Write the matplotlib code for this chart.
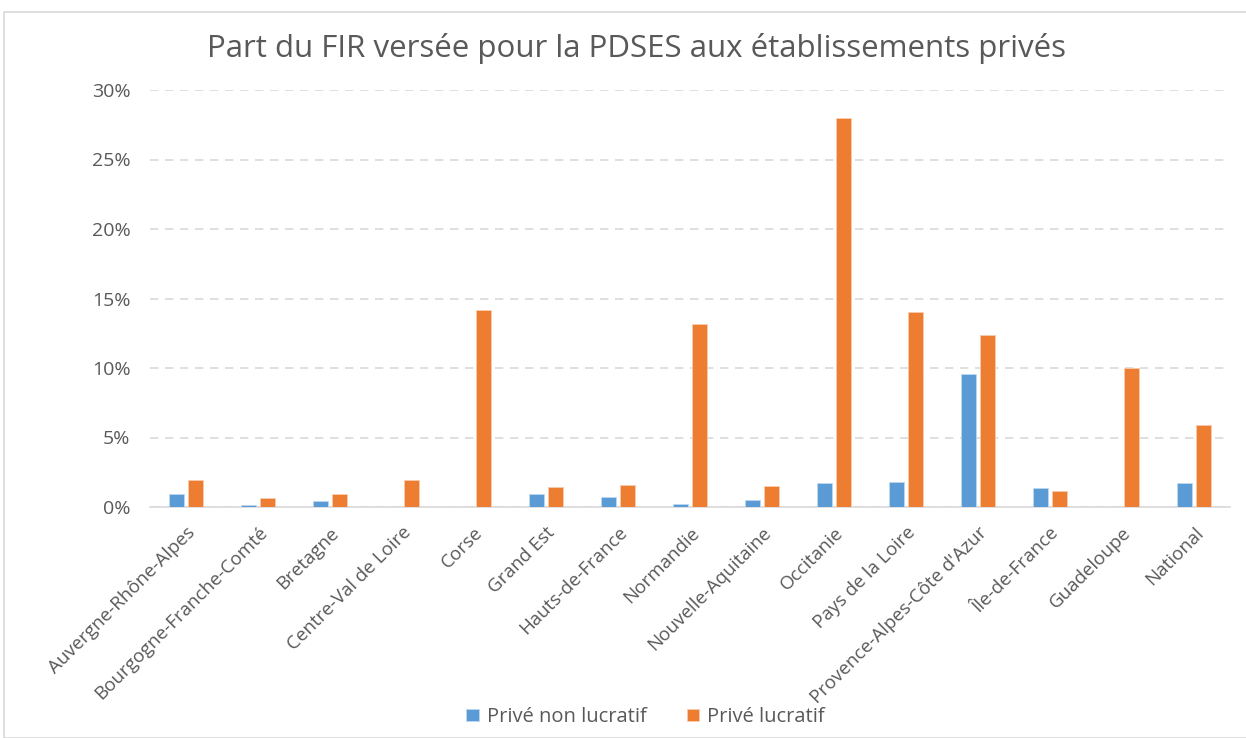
import numpy as np
import matplotlib.pyplot as plt
from matplotlib.patches import Rectangle

regions = ['Auvergne-Rhône-Alpes', 'Bourgogne-Franche-Comté', 'Bretagne', 'Centre-Val de Loire',
           'Corse', 'Grand Est', 'Hauts-de-France', 'Normandie', 'Nouvelle-Aquitaine', 'Occitanie',
           'Pays de la Loire', "Provence-Alpes-Côte d'Azur", 'Île-de-France', 'Guadeloupe', 'National']
non_lucratif = [0.97, 0.17, 0.46, 0.0, 0.0, 0.97, 0.75, 0.25, 0.53, 1.76, 1.83, 9.55, 1.40, 0.0, 1.76]
lucratif = [1.97, 0.68, 0.97, 1.97, 14.15, 1.47, 1.60, 13.15, 1.54, 28.0, 14.05, 12.4, 1.18, 10.0, 5.93]

plt.rcParams['font.family'] = ['Open Sans', 'DejaVu Sans']

fig = plt.figure(figsize=(12.46, 7.38), dpi=100)
fig.patches.append(Rectangle((4 / 1246, 0), 1.2, (738 - 12) / 738, transform=fig.transFigure,
                             fill=False, edgecolor='#D9D9D9', linewidth=1.2))
ax = fig.add_axes([150 / 1246, (738 - 507) / 738, 1080 / 1246, 417 / 738])

x = np.arange(len(regions))
w = 0.21
ax.bar(x - 0.135, non_lucratif, w, color='#5B9BD5', edgecolor='#BDD7EE', linewidth=0.6,
       label='Privé non lucratif', zorder=3)
ax.bar(x + 0.135, lucratif, w, color='#ED7D31', edgecolor='#F8CBAD', linewidth=0.6,
       label='Privé lucratif', zorder=3)

ax.set_xlim(-0.5, len(regions) - 0.5)
ax.set_ylim(0, 30)
ax.set_yticks(range(0, 31, 5))
ax.set_yticklabels([f'{v}%' for v in range(0, 31, 5)], fontsize=14, color='#595959')
ax.set_xticks(x)
ax.set_xticklabels(regions, rotation=45, ha='right', rotation_mode='anchor', fontsize=13.5, color='#595959')
ax.tick_params(axis='y', length=0, pad=14)
ax.tick_params(axis='x', length=0, pad=12)
ax.yaxis.grid(True, color='#D9D9D9', linestyle=(0, (5, 4)), linewidth=1.2, zorder=0)
for s in ['top', 'right', 'left']:
    ax.spines[s].set_visible(False)
ax.spines['bottom'].set_color('#D9D9D9')
ax.spines['bottom'].set_linewidth(1.2)

fig.text(0.511, 1 - 48 / 738, 'Part du FIR versée pour la PDSES aux établissements privés',
         ha='center', va='center', fontsize=22.5, color='#595959')
fig.legend(loc='center', bbox_to_anchor=(0.518, 1 - 717 / 738), ncol=2, frameon=False,
           fontsize=14.5, labelcolor='#595959', handlelength=0.6, handleheight=0.6,
           columnspacing=2.0, handletextpad=0.4)

fig.savefig('out.png', dpi=100)
